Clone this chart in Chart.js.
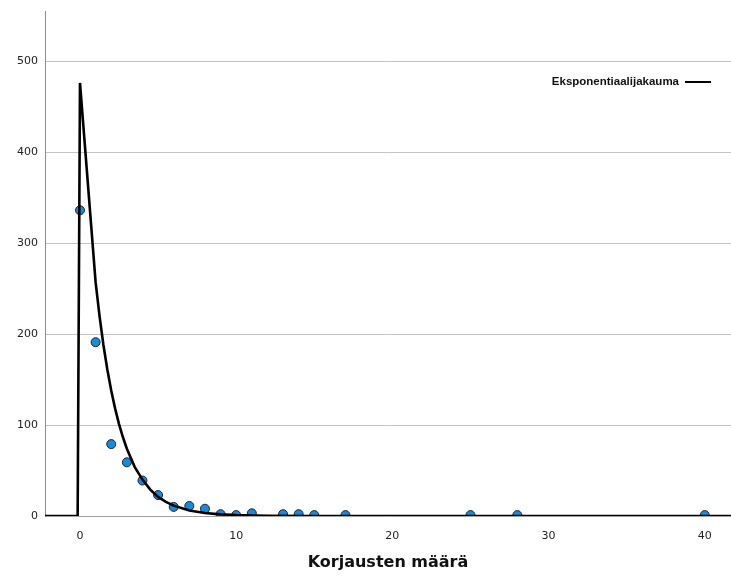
<!DOCTYPE html>
<html>
<head>
<meta charset="utf-8">
<script src="https://cdn.jsdelivr.net/npm/chart.js@4/dist/chart.umd.min.js"></script>
<style>
  html, body { margin: 0; padding: 0; background: #fff; overflow: hidden; }
  #wrap { width: 731px; height: 576px; }
  canvas { display: block; }
</style>
</head>
<body>
<div id="wrap"><canvas id="chart" width="731" height="576"></canvas></div>
<script>
// havaitut frekvenssit
const countX = [0, 1, 2, 3, 4, 5, 6, 7, 8, 9, 10, 11, 13, 14, 15, 17, 25, 28, 40];
const countY = [336, 191, 79, 59, 39, 23, 10, 11, 8, 2, 1, 3, 2, 2, 1, 1, 1, 1, 1];

// sovitettu käyrä (luettu kuvasta)
const curveX = [-2.24, -0.15, 0, 1, 1.25, 1.5, 1.75, 2, 2.25, 2.5, 2.75, 3, 3.5, 4, 4.5, 5, 5.5, 6, 7, 8, 9, 10, 12, 15, 20, 41.7];
const curveY = [0, 0, 476, 257, 220, 188, 161, 138, 118, 101, 86.5, 74, 54, 40, 29, 21, 15.6, 11.4, 6.1, 3.3, 1.8, 1, 0.3, 0, 0, 0];

const xTicks = [0, 10, 20, 30, 40];
const yTicks = [0, 100, 200, 300, 400, 500];

const curveLabel = "Eksponentiaalijakauma";
const xTitle = "Korjausten määrä";

const legendPlugin = {
  id: "lineLegend",
  afterDraw(chart) {
    const ctx = chart.ctx;
    const ds = chart.data.datasets[0];
    ctx.save();
    ctx.font = "bold 11.5px 'Liberation Sans', Arial, sans-serif";
    ctx.fillStyle = "#111";
    ctx.textAlign = "right";
    ctx.textBaseline = "middle";
    ctx.fillText(ds.label, 679, 82);
    ctx.strokeStyle = ds.borderColor;
    ctx.lineWidth = 2;
    ctx.beginPath();
    ctx.moveTo(685, 82);
    ctx.lineTo(711, 82);
    ctx.stroke();
    ctx.restore();
  }
};

const tickFont = { family: "'DejaVu Sans', Verdana, sans-serif", size: 11 };

new Chart(document.getElementById("chart"), {
  type: "scatter",
  data: {
    datasets: [
      {
        type: "line",
        label: curveLabel,
        data: curveX.map((x, i) => ({ x: x, y: curveY[i] })),
        borderColor: "#000",
        backgroundColor: "#000",
        borderWidth: 2.6,
        pointRadius: 0,
        fill: false,
        tension: 0,
        order: 0
      },
      {
        label: "Frekvenssi",
        data: countX.map((x, i) => ({ x: x, y: countY[i] })),
        backgroundColor: "#1a8ad6",
        borderColor: "#1b2633",
        borderWidth: 1,
        pointRadius: 4.5,
        clip: 0,
        order: 1
      }
    ]
  },
  options: {
    responsive: false,
    animation: false,
    layout: { autoPadding: false, padding: { top: 11, right: 0, left: 0, bottom: 0 } },
    plugins: {
      legend: { display: false },
      tooltip: { enabled: false }
    },
    scales: {
      x: {
        type: "linear",
        min: -2.24,
        max: 41.68,
        afterBuildTicks(axis) {
          axis.ticks = xTicks.map(v => ({ value: v }));
        },
        afterFit(axis) {
          axis.height = 60;
          axis.paddingLeft = 0;
          axis.paddingRight = 0;
        },
        grid: { display: false },
        border: { display: true, color: "#a0a0a0", width: 1 },
        ticks: { font: tickFont, color: "#222", padding: 6 },
        title: {
          display: true,
          text: xTitle,
          font: { family: "'DejaVu Sans', Verdana, sans-serif", size: 16, weight: "bold" },
          color: "#111",
          padding: { top: 0, bottom: 4 }
        }
      },
      y: {
        type: "linear",
        min: 0,
        max: 555,
        afterBuildTicks(axis) {
          axis.ticks = yTicks.map(v => ({ value: v }));
        },
        afterFit(axis) {
          axis.width = 45;
          axis.paddingTop = 0;
          axis.paddingBottom = 0;
        },
        grid: { color: "#c4c4c4", lineWidth: 1, drawTicks: false },
        border: { display: true, color: "#8c8c8c", width: 1 },
        ticks: { font: tickFont, color: "#222", padding: 7 }
      }
    }
  },
  plugins: [legendPlugin]
});
</script>
</body>
</html>
